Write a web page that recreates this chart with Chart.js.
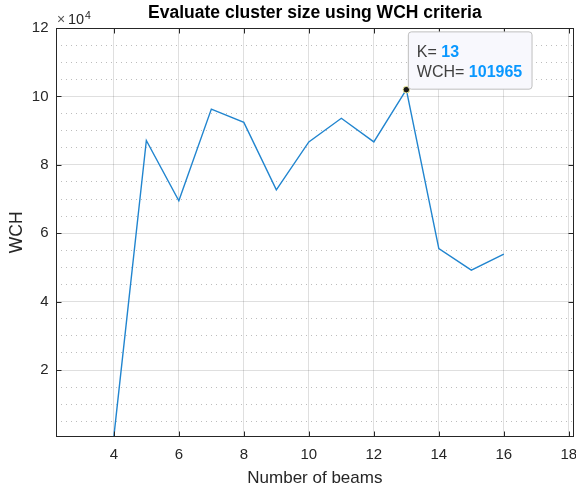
<!DOCTYPE html>
<html><head><meta charset="utf-8">
<script src="https://cdn.jsdelivr.net/npm/chart.js@4"></script>
<style>html,body{margin:0;padding:0;background:#fff}#wrap{width:576px;height:491px}</style>
</head><body><div id="wrap"><canvas id="c" width="576" height="491"></canvas></div>
<script>
const beams = [4, 5, 6, 7, 8, 9, 10, 11, 12, 13, 14, 15, 16];
const wch = [500, 87100, 69500, 96300, 92400, 72700, 86700, 93600, 86700, 101965, 55500, 49200, 53900];
const xTicks = [4, 6, 8, 10, 12, 14, 16, 18];
const yMajorTicks = [20000, 40000, 60000, 80000, 100000, 120000];
const yMinorTicks = [5000, 10000, 15000, 25000, 30000, 35000, 45000, 50000, 55000, 65000, 70000, 75000, 85000, 90000, 95000, 105000, 110000, 115000];
const xRange = [2.22, 18.15];
const yRange = [500, 120000];
const titleText = 'Evaluate cluster size using WCH criteria';
const xLabel = 'Number of beams';
const yLabel = 'WCH';
const tipKeys = ['K= ', 'WCH= '];

const FONT = '"Liberation Sans", Arial, Helvetica, sans-serif';
const peak = wch.indexOf(Math.max(...wch));
const AX = '#262626';

const decor = {
  id: 'decor',
  afterDraw(chart) {
    const {ctx, chartArea: a, scales} = chart;
    const x = scales.x, y = scales.y;
    ctx.save();
    ctx.strokeStyle = AX; ctx.lineWidth = 1;
    const L = Math.round(a.left) + 0.5, T = Math.round(a.top) + 0.5;
    const R = Math.round(a.right) - 0.5, B = Math.round(a.bottom) - 0.5;
    ctx.strokeRect(L, T, R - L, B - T);
    const TL = 5;
    ctx.beginPath();
    xTicks.forEach(v => {
      const p = Math.round(x.getPixelForValue(v)) + 0.5;
      ctx.moveTo(p, B); ctx.lineTo(p, B - TL);
      ctx.moveTo(p, T); ctx.lineTo(p, T + TL);
    });
    yMajorTicks.forEach(v => {
      const p = Math.round(y.getPixelForValue(v)) + 0.5;
      ctx.moveTo(L, p); ctx.lineTo(L + TL, p);
      ctx.moveTo(R, p); ctx.lineTo(R - TL, p);
    });
    ctx.stroke();
    // exponent label
    ctx.textAlign = 'left'; ctx.textBaseline = 'alphabetic';
    ctx.fillStyle = '#555555';
    ctx.font = '14px ' + FONT;
    ctx.fillText('\u00d7', a.left + 1, 24);
    ctx.fillStyle = AX;
    ctx.font = '14.5px ' + FONT;
    ctx.fillText('10', a.left + 12, 24);
    ctx.font = '10.5px ' + FONT;
    ctx.fillText('4', a.left + 29, 18.5);
    // datatip
    const pt = chart.getDatasetMeta(0).data[peak];
    const bx = pt.x + 1.5, by = pt.y - 58.3, bw = 123.7, bh = 57.3;
    ctx.beginPath();
    ctx.roundRect(bx + 0.5, by + 0.5, bw, bh, 3);
    ctx.fillStyle = '#f8f8fd'; ctx.fill();
    ctx.strokeStyle = '#bfbfbf'; ctx.stroke();
    const vals = [String(beams[peak]), String(wch[peak])];
    ctx.textBaseline = 'middle';
    tipKeys.forEach((k, i) => {
      const ty = by + 21 + i * 20;
      ctx.font = '16px ' + FONT; ctx.fillStyle = '#404040';
      ctx.fillText(k, bx + 9, ty);
      const kw = ctx.measureText(k).width;
      ctx.font = 'bold 16px ' + FONT; ctx.fillStyle = '#0a98ff';
      ctx.fillText(vals[i], bx + 9 + kw, ty);
    });
    ctx.restore();
  }
};

new Chart(document.getElementById('c'), {
  type: 'line',
  data: {
    datasets: [{
      data: beams.map((b, i) => ({x: b, y: wch[i]})),
      borderColor: '#2185cf',
      borderWidth: 1.4,
      fill: false,
      tension: 0,
      clip: false,
      pointRadius: c => c.dataIndex === peak ? 3.3 : 0,
      pointHoverRadius: c => c.dataIndex === peak ? 3.3 : 0,
      pointBackgroundColor: '#1a1a1a',
      pointBorderColor: '#ecec9a',
      pointBorderWidth: 1
    }]
  },
  options: {
    responsive: false,
    animation: false,
    events: [],
    layout: {padding: {left: 0, right: 2.3, top: 0, bottom: 0}},
    plugins: {
      legend: {display: false},
      tooltip: {enabled: false},
      title: {
        display: true, text: titleText, fullSize: false, color: '#000',
        font: {family: FONT, size: 17.5, weight: 'bold'},
        padding: {top: 2.4, bottom: 4.6}
      }
    },
    scales: {
      x: {
        type: 'linear', min: xRange[0], max: xRange[1],
        afterBuildTicks: s => { s.ticks = xTicks.map(v => ({value: v})); },
        afterFit: s => { s.height = 54.3; s.paddingLeft = 0; s.paddingRight = 0; },
        ticks: {color: AX, font: {family: FONT, size: 15}, padding: 9.3, maxRotation: 0, autoSkip: false, callback: v => String(v)},
        grid: {color: 'rgba(38,38,38,0.15)', drawTicks: false},
        border: {color: AX, width: 1},
        title: {display: true, text: xLabel, color: AX, font: {family: FONT, size: 17}, padding: {top: 0, bottom: 2.8}}
      },
      y: {
        type: 'linear', position: 'left', min: yRange[0], max: yRange[1],
        afterBuildTicks: s => { s.ticks = yMajorTicks.map(v => ({value: v})); },
        afterFit: s => { s.width = 56; s.paddingTop = 0; s.paddingBottom = 0; },
        ticks: {color: AX, font: {family: FONT, size: 15}, padding: 7.5, autoSkip: false, callback: v => String(v / 10000)},
        grid: {color: 'rgba(38,38,38,0.15)', drawTicks: false},
        border: {color: AX, width: 1},
        title: {display: true, text: yLabel, color: AX, font: {family: FONT, size: 17.5}, padding: {top: 6.3, bottom: 0}}
      },
      yMinor: {
        type: 'linear', position: 'left', min: yRange[0], max: yRange[1],
        afterBuildTicks: s => { s.ticks = yMinorTicks.map(v => ({value: v})); },
        afterFit: s => { s.width = 0; s.paddingTop = 0; s.paddingBottom = 0; },
        ticks: {display: false},
        grid: {color: 'rgba(38,38,38,0.3)', drawTicks: false},
        border: {display: false, dash: [1, 4]}
      }
    }
  },
  plugins: [decor]
});
</script>
</body></html>
